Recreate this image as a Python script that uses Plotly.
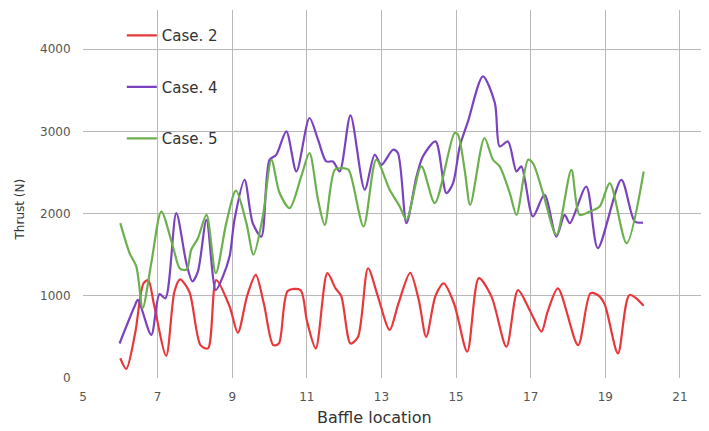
import plotly.graph_objects as go

# Case 2 (red)
case2_x = [6.0, 6.16, 6.4, 6.62, 6.75, 6.9, 7.23, 7.45, 7.6, 7.85, 8.15, 8.35, 8.57, 8.93, 9.15, 9.4,
           9.63, 9.85, 10.1, 10.25, 10.49, 10.83, 11.0, 11.24, 11.55, 11.77, 11.92, 12.17, 12.37, 12.64,
           12.9, 13.22, 13.45, 13.77, 14.0, 14.2, 14.45, 14.67, 14.95, 15.3, 15.61, 15.95, 16.35, 16.66,
           17.0, 17.29, 17.45, 17.73, 18.27, 18.6, 18.8, 18.98, 19.34, 19.65, 20.03]
case2_y = [240, 110, 550, 1150, 1190, 900, 270, 1050, 1200, 1050, 400, 360, 1190, 870, 550, 1000,
           1255, 900, 400, 420, 1060, 1070, 700, 360, 1275, 1090, 1000, 420, 500, 1335,
           1000, 585, 900, 1280, 950, 500, 1000, 1150, 900, 320, 1215, 990, 380, 1070,
           800, 565, 800, 1090, 400, 1030, 1010, 900, 300, 1010, 880]

# Case 4 (purple)
case4_x = [5.98, 6.38, 6.47, 6.83, 7.05, 7.21, 7.5, 7.77, 7.93, 8.08, 8.31, 8.56, 8.75, 8.93, 9.06,
           9.33, 9.55, 9.78, 10.0, 10.18, 10.45, 10.72, 11.07, 11.3, 11.52, 11.7, 11.88, 12.17, 12.55,
           12.82, 13.0, 13.31, 13.44, 13.67, 13.94, 14.11, 14.45, 14.74, 14.92, 15.1, 15.32, 15.72,
           16.04, 16.17, 16.39, 16.62, 16.75, 17.06, 17.37, 17.69, 17.91, 18.05, 18.49, 18.8, 19.43,
           19.79, 20.01]
case4_y = [420, 870, 950, 525, 1020, 970, 2005, 1400, 1175, 1295, 1925, 1070, 1235, 1480, 1925,
           2410, 1885, 1720, 2655, 2715, 3000, 2513, 3163, 2900, 2635, 2635, 2513, 3195, 2290,
           2716, 2594, 2777, 2737, 1884, 2452, 2695, 2878, 2250, 2371, 2817, 3122, 3670,
           3346, 2817, 2878, 2513, 2574, 1965, 2229, 1721, 1985, 1884, 2330, 1580, 2411,
           1904, 1890]

# Case 5 (green)
case5_x = [6.0, 6.25, 6.43, 6.6, 6.83, 7.1, 7.41, 7.6, 7.78, 7.9, 8.08, 8.31, 8.56, 8.84, 9.1,
           9.38, 9.57, 9.82, 10.05, 10.27, 10.54, 10.85, 11.07, 11.3, 11.48, 11.75, 11.97, 12.12,
           12.52, 12.86, 13.22, 13.49, 13.67, 14.07, 14.43, 14.96, 15.05, 15.23, 15.38, 15.76,
           15.99, 16.17, 16.44, 16.62, 16.93, 17.06, 17.33, 17.69, 18.09, 18.31, 18.58, 18.85,
           19.12, 19.57, 20.03]
case5_y = [1884, 1518, 1356, 850, 1397, 2025, 1600, 1330, 1320, 1560, 1700, 1985, 1275, 1884, 2280,
           1884, 1500, 1965, 2655, 2250, 2067, 2452, 2737, 2168, 1863, 2533, 2554, 2533,
           1843, 2655, 2290, 2087, 1925, 2574, 2128, 2980, 2960, 2533, 2107, 2920,
           2655, 2574, 2250, 1985, 2655, 2615, 2250, 1742, 2533, 1985, 2026, 2087,
           2371, 1640, 2513]

x_ticks = [5, 7, 9, 11, 13, 15, 17, 19, 21]
y_ticks = [0, 1000, 2000, 3000, 4000]

series = [
    ("Case. 2", case2_x, case2_y, "#e8383b"),
    ("Case. 4", case4_x, case4_y, "#7b42bf"),
    ("Case. 5", case5_x, case5_y, "#6cb04e"),
]

fig = go.Figure()
for i, (name, xs, ys, col) in enumerate(series):
    fig.add_trace(go.Scatter(
        x=xs, y=ys, name=name, mode="lines", legendgroup=f"g{i}",
        line=dict(color=col, width=2.2, shape="spline", smoothing=0.8),
    ))

FONT = "DejaVu Sans"
# the page body has an 8px default margin, so the figure is sized to fill the rest
fig.update_layout(
    width=701, height=423,
    margin=dict(l=75, r=0, t=2, b=53),
    paper_bgcolor="white", plot_bgcolor="white",
    font=dict(family=FONT, color="#555555", size=12),
    showlegend=True,
    legend=dict(
        x=0.062, y=0.975, xanchor="left", yanchor="top",
        bgcolor="rgba(0,0,0,0)", borderwidth=0,
        font=dict(family=FONT, size=15, color="#333333"),
        tracegroupgap=29, itemwidth=30,
    ),
    xaxis=dict(
        range=[5, 21.78], tickmode="array", tickvals=x_ticks,
        ticktext=[str(v) for v in x_ticks],
        showgrid=True, gridcolor="#b8b8b8", gridwidth=1,
        zeroline=False, showline=False,
        ticks="outside", ticklen=8, tickcolor="rgba(0,0,0,0)",
        tickfont=dict(family=FONT, size=12, color="#555555"),
    ),
    yaxis=dict(
        range=[0, 4477], tickmode="array", tickvals=y_ticks,
        ticktext=[str(v) for v in y_ticks],
        showgrid=True, gridcolor="#b8b8b8", gridwidth=1,
        zeroline=False, showline=False,
        ticks="outside", ticklen=9, tickcolor="rgba(0,0,0,0)",
        tickfont=dict(family=FONT, size=12, color="#555555"),
    ),
    annotations=[
        dict(text="Baffle location", xref="paper", yref="paper", x=0.465, y=-0.108,
             xanchor="center", yanchor="middle", showarrow=False,
             font=dict(family=FONT, size=16, color="#333333")),
        dict(text="Thrust (N)", xref="paper", yref="paper", x=-0.1, y=0.459,
             xanchor="center", yanchor="middle", showarrow=False, textangle=-90,
             font=dict(family=FONT, size=12, color="#333333")),
    ],
)

fig.write_html("out.html")
